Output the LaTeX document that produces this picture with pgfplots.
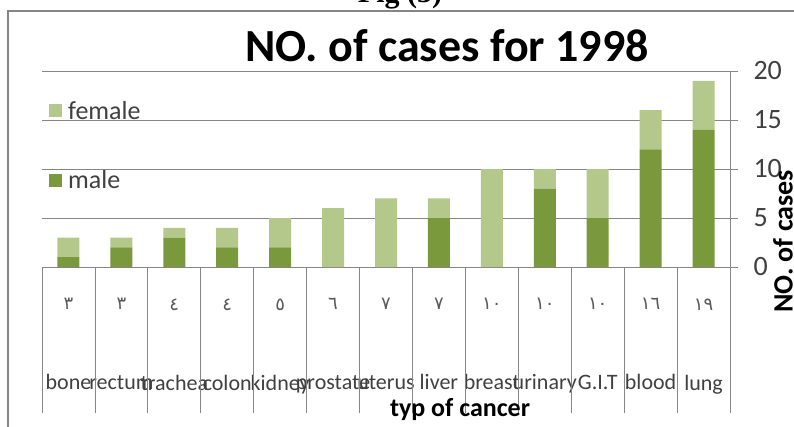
\documentclass[border=0pt]{standalone}
\usepackage{pgfplots}
\pgfplotsset{compat=1.18}
\usepackage{fontspec}
\setmainfont{Carlito}
\newfontfamily\arabicfont[Script=Arabic]{DejaVu Sans}
\newfontfamily\serifb{Liberation Serif}
\definecolor{male}{RGB}{122,153,60}
\definecolor{female}{RGB}{179,200,138}
\definecolor{gridc}{RGB}{134,134,134}
\definecolor{txt}{RGB}{64,64,64}
\newcommand{\ar}[1]{{\arabicfont\fontsize{18}{18}\selectfont\color{black!65}#1}}
\begin{document}
\begin{tikzpicture}[x=1pt,y=1pt]
\useasboundingbox (0,0) rectangle (794,426);
\node[font=\serifb\bfseries\fontsize{30}{30}\selectfont, anchor=base] at (400,423) {Fig (3)};
\draw[gridc, line width=2.5pt] (8,-5) -- (8,415) -- (800,415);
\node[font=\bfseries\fontsize{46}{46}\selectfont, anchor=base] at (447,364) {NO. of cases for 1998};
\begin{axis}[
 at={(42pt,159pt)}, anchor=south west,
 scale only axis, width=688pt, height=196pt,
 ybar stacked, bar width=22pt,
 xmin=-0.5, xmax=12.5, ymin=0, ymax=20,
 axis y line*=right, axis x line*=bottom,
 axis line style={gridc, line width=0.8pt},
 ytick={0,5,10,15,20},
 ymajorgrids, grid style={gridc, line width=0.8pt},
 tick align=outside, major tick length=8pt,
 xtick={0,...,12},
 xticklabels={
  {\ar{٣}\\[58pt]bone},{\ar{٣}\\[58pt]rectum},{\ar{٤}\\[58pt]trachea},
  {\ar{٤}\\[58pt]colon},{\ar{٥}\\[58pt]kidney},{\ar{٦}\\[58pt]prostate},
  {\ar{٧}\\[58pt]uterus},{\ar{٧}\\[58pt]liver},{\ar{١٠}\\[58pt]breast},
  {\ar{١٠}\\[58pt]urinary},{\ar{١٠}\\[58pt]G.I.T},{\ar{١٦}\\[58pt]blood},
  {\ar{١٩}\\[58pt]lung}},
 x tick style={draw=none},
 extra x ticks={-0.5,0.5,...,12.5},
 extra x tick labels={},
 extra x tick style={grid=none, x tick style={draw=gridc, line width=0.8pt}, major tick length=146pt},
 y tick style={gridc, line width=0.8pt},
 xticklabel style={font=\fontsize{22}{22}\selectfont\color{txt}, align=center, anchor=north, yshift=-20pt},
 yticklabel style={font=\fontsize{28}{28}\selectfont\color{txt}, xshift=12pt},
 /pgf/number format/assume math mode=true,
 xlabel={typ of cancer},
 ylabel={NO. of cases},
 every axis x label/.style={at={(rel axis cs:0,0)}, xshift=418pt, yshift=-149pt, anchor=base, font=\bfseries\fontsize{26}{26}\selectfont},
 every axis y label/.style={at={(rel axis cs:1,0.13)}, xshift=53pt, rotate=90, anchor=center, font=\bfseries\fontsize{28}{28}\selectfont},
 legend style={at={(rel axis cs:0,1)}, anchor=north west, xshift=4pt, yshift=-26pt, draw=none, fill=none, font=\fontsize{26}{26}\selectfont\color{txt}, row sep=46pt, column sep=4pt, cells={anchor=west}},
 reverse legend,
 legend image code/.code={\draw[#1,draw=none] (0pt,-6pt) rectangle (13pt,7pt);},
]
\addplot[fill=male, draw=none] coordinates {(0,1) (1,2) (2,3) (3,2) (4,2) (5,0) (6,0) (7,5) (8,0) (9,8) (10,5) (11,12) (12,14)};
\addplot[fill=female, draw=none] coordinates {(0,2) (1,1) (2,1) (3,2) (4,3) (5,6) (6,7) (7,2) (8,10) (9,2) (10,5) (11,4) (12,5)};
\legend{male,female}
\end{axis}
\end{tikzpicture}
\end{document}
